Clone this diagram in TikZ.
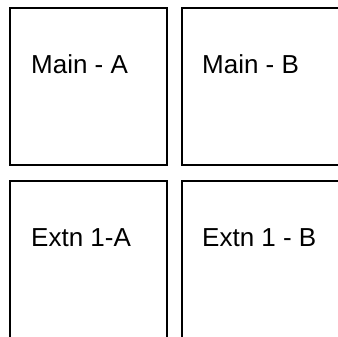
\documentclass[tikz,border=0pt]{standalone}
\usepackage{fontspec}
\setmainfont{Liberation Sans}
\begin{document}
\begin{tikzpicture}[x=1pt,y=-1pt,
  cell/.style={draw=black,line width=2pt,fill=white,minimum width=157pt,minimum height=157pt,inner sep=0pt,outer sep=0pt,anchor=north west},
  celltext/.style={font=\fontsize{26}{30}\selectfont,inner sep=0pt,anchor=base west}]
\useasboundingbox (0,0) rectangle (338,337);
\clip (0,0) rectangle (338,337);
\node[cell] (ma) at (10,8) {};
\node[cell,minimum width=180pt] (mb) at (182,8) {};
\node[cell,minimum height=180pt] (ea) at (10,181) {};
\node[cell,minimum width=180pt,minimum height=180pt] (eb) at (182,181) {};
\node[celltext] (tma) at ([xshift=21pt,yshift=-66pt]ma.north west) {Main - A};
\node[celltext] (tmb) at ([xshift=20pt,yshift=-66pt]mb.north west) {Main - B};
\node[celltext] (tea) at ([xshift=21pt,yshift=-65pt]ea.north west) {Extn 1-A};
\node[celltext] (teb) at ([xshift=20pt,yshift=-65pt]eb.north west) {Extn 1 - B};
\end{tikzpicture}
\end{document}
